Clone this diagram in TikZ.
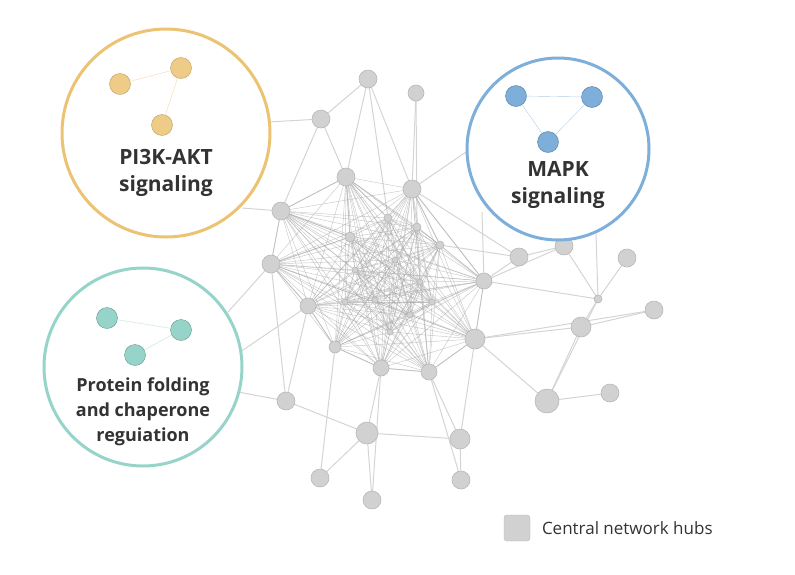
\documentclass[tikz,border=0pt]{standalone}
\usepackage{fontspec}
\setmainfont{Open Sans}
\usetikzlibrary{positioning}
\begin{document}
\begin{tikzpicture}[x=1pt,y=-1pt]
\tikzset{ inner sep=0pt, outer sep=0pt,
  hub/.style={circle, fill=black!18, draw=black!28, line width=0.6pt},
  link/.style={black!17, line width=1pt},
  core/.style={black!35, line width=0.45pt, opacity=0.6},
  ring/.style={line width=3pt},
  lbl/.style={font=\fontsize{17}{20}\selectfont\bfseries, text=black!80},
}
\useasboundingbox (0,0) rectangle (795,574);

% network hubs
\foreach \n/\x/\y/\r in {n1/368/79/18, n2/416/93/16, n3/321/119/18, n4/346/177/18,
  n5/412/189/18, n6/281/211/18, n7/271/264/18, n8/308/306/16, n9/335/347/12,
  n10/381/368/16, n11/429/372/16, n12/475/339/20, n13/484/281/16, n14/440/245/8,
  n15/417/227/8, n16/388/218/8, n17/350/237/10, n18/519/257/18, n19/564/246/18,
  n20/627/258/18, n21/598/299/8, n22/654/310/18, n23/581/327/20, n24/547/401/24,
  n25/610/393/18, n26/460/439/20, n27/367/433/22, n28/286/401/18, n29/320/478/18,
  n30/372/500/18, n31/461/480/18,
  c1/355/270/6, c2/395/260/6, c3/420/282/6, c4/375/300/6, c5/410/315/6,
  c6/432/302/6, c7/345/302/6, c8/390/332/6}
  \coordinate (\n) at (\x,\y);

% circle rims
\coordinate (oa) at (268,122);
\coordinate (ob) at (242,208);
\coordinate (ba) at (466,152);
\coordinate (bb) at (482,212);
\coordinate (bc) at (596,234);
\coordinate (ta) at (228,312);
\coordinate (tb) at (240,352);
\coordinate (tc) at (238,392);

% links
\foreach \a/\b in {n1/n3, n1/n4, n1/n5, n1/n16, n2/n5, n2/n15, n3/n6, n3/n4, n4/n6,
  n4/n16, n4/n17, n5/n14, n5/n18, n5/n13, n6/n7, n6/n17, n7/n8, n7/n28, n8/n9,
  n8/n28, n9/n10, n10/n11, n10/n27, n11/n12, n11/n26, n12/n13, n12/n24, n12/n26,
  n12/n23, n13/n18, n13/n19, n14/n18, n18/n19, n19/n21, n20/n21, n21/n23, n22/n23,
  n21/n24, n23/n24, n24/n25, n26/n31, n26/n27, n27/n29, n27/n30, n28/n27, n9/n29,
  n10/n30, n11/n31, n7/n17, n13/n21, n12/n22,
  oa/n3, ob/n6, ba/n5, bb/n13, bc/n21, ta/n7, tb/n8, tc/n28}
  \draw [link] (\a) -- (\b);

% dense core
\foreach \a [count=\i] in {n4,n5,n6,n7,n8,n9,n10,n11,n12,n13,n14,n15,n16,n17,c1,c2,c3,c4,c5,c6,c7,c8}
  \foreach \b [count=\j] in {n4,n5,n6,n7,n8,n9,n10,n11,n12,n13,n14,n15,n16,n17,c1,c2,c3,c4,c5,c6,c7,c8}
    {\ifnum\i<\j \draw [core] (\a) -- (\b); \fi}

\foreach \n/\x/\y/\r in {n1/368/79/18, n2/416/93/16, n3/321/119/18, n4/346/177/18,
  n5/412/189/18, n6/281/211/18, n7/271/264/18, n8/308/306/16, n9/335/347/12,
  n10/381/368/16, n11/429/372/16, n12/475/339/20, n13/484/281/16, n14/440/245/8,
  n15/417/227/8, n16/388/218/8, n17/350/237/10, n18/519/257/18, n19/564/246/18,
  n20/627/258/18, n21/598/299/8, n22/654/310/18, n23/581/327/20, n24/547/401/24,
  n25/610/393/18, n26/460/439/20, n27/367/433/22, n28/286/401/18, n29/320/478/18,
  n30/372/500/18, n31/461/480/18,
  c1/355/270/6, c2/395/260/6, c3/420/282/6, c4/375/300/6, c5/410/315/6,
  c6/432/302/6, c7/345/302/6, c8/390/332/6}
  \node [hub, minimum size=\r pt] (h\n) at (\x,\y) {};

% modules
\definecolor{pigold}{RGB}{235,195,115}
\definecolor{mapkblue}{RGB}{125,175,218}
\definecolor{foldteal}{RGB}{150,212,202}

\draw [ring, pigold, fill=white] (166,133) circle (104);
\draw [ring, mapkblue, fill=white] (558,149) circle (91);
\draw [ring, foldteal, fill=white] (143,367) circle (99);

\node [circle, minimum size=21pt, fill=pigold!85, draw=pigold!80!black] (p1) at (120,84) {};
\node [circle, minimum size=21pt, fill=pigold!85, draw=pigold!80!black] (p2) at (181,68) {};
\node [circle, minimum size=21pt, fill=pigold!85, draw=pigold!80!black] (p3) at (162,125) {};
\draw [pigold!60] (p1) -- (p2) -- (p3);

\node [circle, minimum size=21pt, fill=mapkblue, draw=mapkblue!70!black] (m1) at (516,96) {};
\node [circle, minimum size=21pt, fill=mapkblue, draw=mapkblue!70!black] (m2) at (592,97) {};
\node [circle, minimum size=21pt, fill=mapkblue, draw=mapkblue!70!black] (m3) at (548,142) {};
\draw [mapkblue!60] (m1) -- (m2) -- (m3) -- (m1);

\node [circle, minimum size=21pt, fill=foldteal, draw=foldteal!70!black] (t1) at (107,318) {};
\node [circle, minimum size=21pt, fill=foldteal, draw=foldteal!70!black] (t2) at (181,330) {};
\node [circle, minimum size=21pt, fill=foldteal, draw=foldteal!70!black] (t3) at (135,355) {};
\draw [foldteal!60] (t1) -- (t2) -- (t3);

\node [lbl, align=center, font=\fontsize{21}{27}\selectfont\bfseries] (pilbl) at (166,173) {PI3K-AKT\\signaling};
\node [lbl, align=center, font=\fontsize{21}{27}\selectfont\bfseries] (mapklbl) at (558,185) {MAPK\\signaling};
\node [lbl, align=center, font=\fontsize{18}{25}\selectfont\bfseries] (foldlbl) at (143,412) {Protein folding\\and chaperone\\reguiation};

% legend
\node [fill=black!18, draw=black!28, rounded corners=3pt, minimum size=26pt] (key) at (517,528) {};
\node [right=12pt of key, font=\fontsize{17}{20}\selectfont, text=black!80] (keylbl) {Central network hubs};
\end{tikzpicture}
\end{document}
